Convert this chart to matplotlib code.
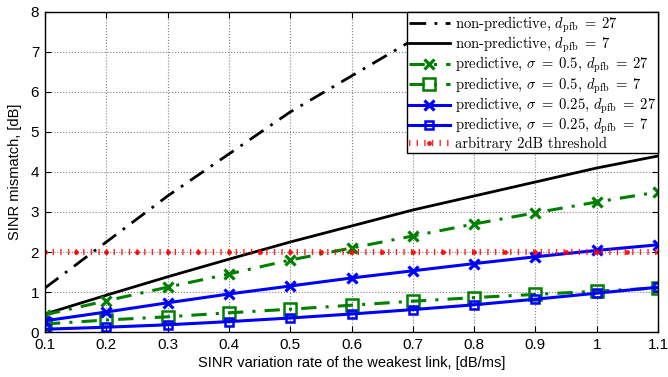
import matplotlib
matplotlib.use("Agg")
import matplotlib.pyplot as plt
import numpy as np

# SINR variation rate [dB/ms]
rate = [0.1, 0.2, 0.3, 0.4, 0.5, 0.6, 0.7, 0.8, 0.9, 1.0, 1.1]

nonpred_27 = [1.1, 2.25, 3.4, 4.45, 5.5, 6.4, 7.3, 8.2, 9.0, 9.8, 10.6]
nonpred_7 = [0.45, 0.92, 1.38, 1.82, 2.25, 2.65, 3.05, 3.4, 3.75, 4.1, 4.4]
pred05_27 = [0.43, 0.78, 1.12, 1.45, 1.8, 2.1, 2.4, 2.7, 2.98, 3.25, 3.5]
pred05_7 = [0.2, 0.3, 0.38, 0.48, 0.57, 0.67, 0.77, 0.86, 0.94, 1.02, 1.1]
pred025_27 = [0.28, 0.5, 0.73, 0.95, 1.15, 1.35, 1.53, 1.71, 1.88, 2.04, 2.18]
pred025_7 = [0.07, 0.12, 0.18, 0.26, 0.35, 0.45, 0.56, 0.68, 0.82, 0.97, 1.12]

thr_x = [0.1, 0.15, 0.2, 0.25, 0.3, 0.35, 0.4, 0.45, 0.5, 0.55, 0.6, 0.65,
         0.7, 0.75, 0.8, 0.85, 0.9, 0.95, 1.0, 1.05, 1.1]
thr_y = [2.0] * len(thr_x)

xtick_labels = ['0.1', '0.2', '0.3', '0.4', '0.5', '0.6', '0.7', '0.8', '0.9', '1', '1.1']

plt.rcParams['font.family'] = ['Liberation Sans', 'DejaVu Sans']
plt.rcParams['mathtext.fontset'] = 'cm'
plt.rcParams['axes.formatter.use_mathtext'] = True

green = (0, 0.5, 0)
blue = (0, 0, 1)

fig = plt.figure(figsize=(6.68, 3.77), dpi=100)
ax = fig.add_axes([45 / 668, 45 / 377, 613 / 668, 320 / 377])

ax.plot(rate, nonpred_27, color='k', lw=2, ls=(0, (6, 3, 1, 3)),
        label=r'non-predictive, $d_{\mathrm{pfb}}\;=\;27$')
ax.plot(rate, nonpred_7, color='k', lw=2, ls='-',
        label=r'non-predictive, $d_{\mathrm{pfb}}\;=\;7$')
ax.plot(rate, pred05_27, color=green, lw=2.2, ls=(0, (5, 3, 1, 3)), marker='x',
        ms=7.5, mew=2.3, label=r'predictive, $\sigma\;=\;0.5$, $d_{\mathrm{pfb}}\;=\;27$')
ax.plot(rate, pred05_7, color=green, lw=2.2, ls=(0, (5, 3, 1, 3)), marker='s',
        ms=8.5, mew=1.8, mfc='none', label=r'predictive, $\sigma\;=\;0.5$, $d_{\mathrm{pfb}}\;=\;7$')
ax.plot(rate, pred025_27, color=blue, lw=2.2, ls='-', marker='x',
        ms=7, mew=2.3, label=r'predictive, $\sigma\;=\;0.25$, $d_{\mathrm{pfb}}\;=\;27$')
ax.plot(rate, pred025_7, color=blue, lw=2.2, ls='-', marker='s',
        ms=6, mew=1.8, mfc='none', label=r'predictive, $\sigma\;=\;0.25$, $d_{\mathrm{pfb}}\;=\;7$')
ax.plot(thr_x, thr_y, color='red', lw=4.5, ls=(0, (0.22, 1.0)),
        dash_capstyle='butt', marker='.', ms=5, alpha=0.85,
        label='arbitrary 2dB threshold')

ax.set_xlim(0.1, 1.1)
ax.set_ylim(0, 8)
ax.set_xticks(rate)
ax.set_xticklabels(xtick_labels)
ax.set_yticks(range(0, 9))
ax.tick_params(direction='in', top=True, right=True, labelsize=11, length=4)
ax.tick_params(axis='x', pad=4.5)
ax.grid(True, ls=':', color='gray', lw=0.8)
ax.set_xlabel('SINR variation rate of the weakest link, [dB/ms]', fontsize=10.5, labelpad=3)
ax.set_ylabel('SINR mismatch, [dB]', fontsize=10.5, labelpad=6)
for s in ax.spines.values():
    s.set_linewidth(1.0)

leg = ax.legend(loc='upper right', prop={'family': 'cmr10', 'size': 10.5},
                frameon=True, fancybox=False, framealpha=1, edgecolor='k',
                borderpad=0.15, labelspacing=0.0, handlelength=2.8, handletextpad=0.35,
                borderaxespad=0.0)
leg.get_frame().set_linewidth(1.0)

fig.savefig('out.png', dpi=100)
